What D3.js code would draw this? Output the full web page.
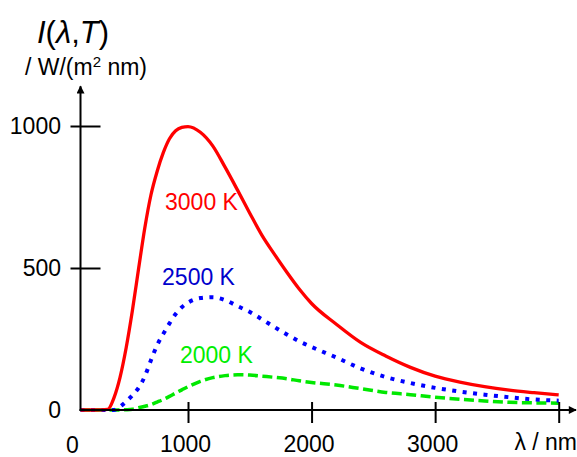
<!DOCTYPE html>
<meta charset="utf-8">
<style>
  body {
    margin: 0;
    background-color: #ffffff;
  }

  text {
    font-family: Arial, "Liberation Sans", sans-serif;
  }
</style>
<svg width="577" height="457"></svg>
<script src="https://d3js.org/d3.v7.min.js"></script>

<script>
  // wavelengths in nm, shared by the three curves
  var wavelengths = [130, 250, 350, 400, 450, 500, 550, 600, 650, 700, 750, 800, 850, 900, 950, 1000,
    1100, 1200, 1300, 1400, 1500, 1600, 1700, 1800, 1900, 2000, 2200, 2400, 2600, 2800, 3000,
    3200, 3400, 3600, 3800, 4000];

  // intensity, W/(m2 nm)
  var values3000 = [0, 0, 2, 42, 115, 220, 350, 497, 640, 757, 840, 906, 955, 983, 995, 998,
    978, 930, 855, 775, 693, 614, 548, 485, 426, 375, 302, 237, 190, 150, 119,
    98, 82, 70, 61, 53];
  var values2500 = [0, 0, 0, 0, 12, 30, 52, 78, 118, 175, 228, 268, 305, 338, 362, 378,
    394, 397, 387, 366, 345, 319, 292, 266, 242, 222, 185, 146, 116, 95, 78,
    65, 54, 45, 37, 33];
  var values2000 = [0, 0, 0, 0, 0, 1, 3, 8, 13, 19, 28, 37, 48, 60, 71, 82,
    101, 114, 121, 124, 123, 119, 115, 110, 103, 97, 88, 75, 62, 54, 45,
    38, 32, 27, 25, 24];

  var seriesNames = ["3000 K", "2500 K", "2000 K"];
  var seriesColours = ["#ff0000", "#0000ff", "#00e800"];
  var labelColours = ["#ff0000", "#0000cc", "#00ee00"];
  var labelLambda = [814, 790, 935];
  var labelValue = [704, 440, 166];

  var yTicks = [0, 500, 1000];
  var xTicks = [1000, 2000, 3000, 4000];

  var svg = d3.select("svg");

  var x = d3.scaleLinear().domain([130, 4000]).range([80.5, 558.7]);
  var y = d3.scaleLinear().domain([0, 1000]).range([410, 126]);

  var series = [values3000, values2500, values2000].map(function (vals, i) {
    return {
      name: seriesNames[i],
      points: wavelengths.map(function (w, j) { return { w: w, v: vals[j] }; })
    };
  });

  // arrow heads
  svg.append("defs").append("marker")
    .attr("id", "arrow")
    .attr("viewBox", "0 0 10 10")
    .attr("refX", 9)
    .attr("refY", 5)
    .attr("markerUnits", "userSpaceOnUse")
    .attr("markerWidth", 9)
    .attr("markerHeight", 8)
    .attr("orient", "auto")
    .append("path")
    .attr("d", "M0,0 L10,5 L0,10 Z")
    .attr("fill", "#000");

  var line = d3.line()
    .x(function (d) { return x(d.w); })
    .y(function (d) { return y(d.v); })
    .curve(d3.curveMonotoneX);

  // curves (green first so red sits on top)
  var styles = [
    { width: 3.3, dash: null },
    { width: 4, dash: "4,6.5" },
    { width: 3.5, dash: "10,4.5" }
  ];
  [2, 1, 0].forEach(function (i) {
    svg.append("path")
      .datum(series[i].points)
      .attr("fill", "none")
      .attr("stroke", seriesColours[i])
      .attr("stroke-width", styles[i].width)
      .attr("stroke-dasharray", styles[i].dash)
      .attr("d", line);
  });

  // y axis
  var yAxis = svg.append("g")
    .attr("transform", "translate(" + x(130) + ",0)")
    .call(d3.axisLeft(y).tickValues(yTicks).tickFormat(d3.format("d")));
  yAxis.select(".domain").remove();
  yAxis.selectAll(".tick line")
    .attr("x1", -10).attr("x2", 20)
    .attr("stroke", "#000").attr("stroke-width", 2)
    .filter(function (d) { return d === 0; }).remove();
  yAxis.selectAll(".tick text")
    .attr("x", -19.5)
    .attr("fill", "#000")
    .style("font-size", "23px")
    .style("font-family", "Arial, 'Liberation Sans', sans-serif");

  svg.append("line")
    .attr("x1", x(130)).attr("y1", y(0) + 1)
    .attr("x2", x(130)).attr("y2", y(1140))
    .attr("stroke", "#000").attr("stroke-width", 2)
    .attr("marker-end", "url(#arrow)");

  // x axis
  var xAxis = svg.append("g")
    .attr("transform", "translate(0," + y(0) + ")")
    .call(d3.axisBottom(x).tickValues(xTicks).tickFormat(function (d) { return d === 4000 ? "" : d; }));
  xAxis.select(".domain").remove();
  xAxis.selectAll(".tick line")
    .attr("y1", -8).attr("y2", 13)
    .attr("stroke", "#000").attr("stroke-width", 2);
  xAxis.selectAll(".tick text")
    .attr("x", -3)
    .attr("y", 42)
    .attr("dy", 0)
    .attr("fill", "#000")
    .style("font-size", "23px")
    .style("font-family", "Arial, 'Liberation Sans', sans-serif");

  svg.append("line")
    .attr("x1", x(130) - 1).attr("y1", y(0))
    .attr("x2", x(4140)).attr("y2", y(0))
    .attr("stroke", "#000").attr("stroke-width", 2)
    .attr("marker-end", "url(#arrow)");

  svg.append("text")
    .attr("x", x(130) - 8)
    .attr("y", y(0) + 43)
    .attr("text-anchor", "middle")
    .style("font-size", "23px")
    .text("0");

  svg.append("text")
    .attr("x", 577)
    .attr("y", y(0) + 40)
    .attr("text-anchor", "end")
    .style("font-size", "23px")
    .text("λ / nm");

  // y title
  var title = svg.append("text")
    .attr("x", 73)
    .attr("y", 43)
    .attr("text-anchor", "middle")
    .style("font-size", "31px");
  title.append("tspan").style("font-style", "italic").text("I");
  title.append("tspan").text("(");
  title.append("tspan").style("font-style", "italic").text("λ");
  title.append("tspan").text(",");
  title.append("tspan").style("font-style", "italic").text("T");
  title.append("tspan").text(")");

  var unit = svg.append("text")
    .attr("x", 86)
    .attr("y", 75)
    .attr("text-anchor", "middle")
    .style("font-size", "23px");
  unit.append("tspan").text("/ W/(m");
  unit.append("tspan").attr("dy", -8).style("font-size", "15px").text("2");
  unit.append("tspan").attr("dy", 8).text(" nm)");

  // curve labels
  series.forEach(function (s, i) {
    svg.append("text")
      .attr("x", x(labelLambda[i]))
      .attr("y", y(labelValue[i]))
      .attr("fill", labelColours[i])
      .style("font-size", "23px")
      .text(s.name);
  });
</script>
